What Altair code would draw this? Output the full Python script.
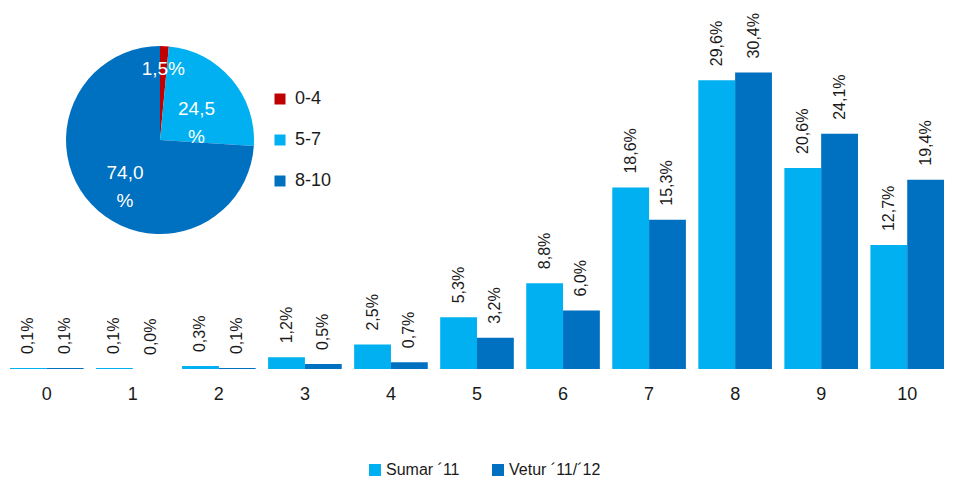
import altair as alt
import pandas as pd

scores = ["0", "1", "2", "3", "4", "5", "6", "7", "8", "9", "10"]
series = ["Sumar \u00b411", "Vetur \u00b411/\u00b412"]
sumar = [0.1, 0.1, 0.3, 1.2, 2.5, 5.3, 8.8, 18.6, 29.6, 20.6, 12.7]
vetur = [0.1, 0.0, 0.1, 0.5, 0.7, 3.2, 6.0, 15.3, 30.4, 24.1, 19.4]

pie_groups = ["0-4", "5-7", "8-10"]
pie_values = [1.5, 24.5, 74.0]
pie_labels = ["1,5%", "24,5\n%", "74,0\n%"]

FONT = "Liberation Sans"
LIGHT = "#00B0F0"
DARK = "#0070C0"
RED = "#C00000"

rows = []
for s, vals in zip(series, [sumar, vetur]):
    for sc, v in zip(scores, vals):
        rows.append({"score": sc, "series": s, "value": v,
                     "label": f"{v:.1f}".replace(".", ",") + "%"})
bars_df = pd.DataFrame(rows)

pie_df = pd.DataFrame({"group": pie_groups, "share": pie_values,
                       "label": pie_labels, "idx": [0, 1, 2]})

x_enc = alt.X("score:N", sort=scores,
              scale=alt.Scale(paddingInner=0.1445, paddingOuter=0.023),
              axis=alt.Axis(title=None, labelAngle=0, ticks=False, domain=False,
                            labelFontSize=18, labelPadding=16, labelFont=FONT,
                            labelColor="#1a1a1a"))
y_enc = alt.Y("value:Q", scale=alt.Scale(domain=[0, 37]), axis=None)
xoff = alt.XOffset("series:N", sort=series)

bars = alt.Chart(bars_df).mark_bar().encode(
    x=x_enc, y=y_enc, xOffset=xoff,
    color=alt.Color("series:N", sort=series,
                    scale=alt.Scale(domain=series, range=[LIGHT, DARK]),
                    legend=alt.Legend(title=None, orient="none", direction="horizontal",
                                      legendX=359, legendY=454, symbolType="square",
                                      symbolSize=144, symbolStrokeWidth=0,
                                      labelFontSize=16, labelFont=FONT,
                                      labelColor="#1a1a1a", columnPadding=30,
                                      labelOffset=3)),
)

bar_text = alt.Chart(bars_df).mark_text(
    angle=270, align="left", baseline="middle", dx=14,
    fontSize=16, font=FONT, color="#1a1a1a"
).encode(x=x_enc, y=y_enc, xOffset=xoff, text="label:N")

theta = alt.Theta("share:Q", stack=True)
order = alt.Order("idx:Q")

pie = alt.Chart(pie_df).mark_arc(outerRadius=94).encode(
    theta=theta, order=order,
    x=alt.value(152), y=alt.value(132),
    color=alt.Color("group:N", sort=pie_groups,
                    scale=alt.Scale(domain=pie_groups, range=[RED, LIGHT, DARK]),
                    legend=alt.Legend(title=None, orient="none", legendX=263, legendY=82,
                                      symbolType="square", symbolSize=121,
                                      symbolStrokeWidth=0, labelFontSize=18,
                                      labelFont=FONT, labelColor="#1a1a1a",
                                      rowPadding=23, labelOffset=6)),
)

pie_text_outer = alt.Chart(pie_df).mark_text(
    radius=71, fontSize=19, font=FONT, color="white", lineBreak="\n", lineHeight=28
).encode(
    theta=theta, order=order, x=alt.value(152), y=alt.value(132),
    text=alt.condition("datum.idx == 0", "label:N", alt.value("")),
)
pie_text_inner = alt.Chart(pie_df).mark_text(
    radius=48, fontSize=19, font=FONT, color="white", lineBreak="\n", lineHeight=28
).encode(
    theta=theta, order=order, x=alt.value(152), y=alt.value(132),
    text=alt.condition("datum.idx != 0", "label:N", alt.value("")),
)

chart = alt.layer(bars, bar_text, pie, pie_text_outer, pie_text_inner).resolve_scale(
    color="independent"
).properties(
    width=938, height=361,
    autosize=alt.AutoSizeParams(type="none"),
    padding={"left": 0, "top": 0, "right": 0, "bottom": 108},
).configure_view(stroke=None)

chart.save("out.html", embed_options={"renderer": "svg", "actions": False})
